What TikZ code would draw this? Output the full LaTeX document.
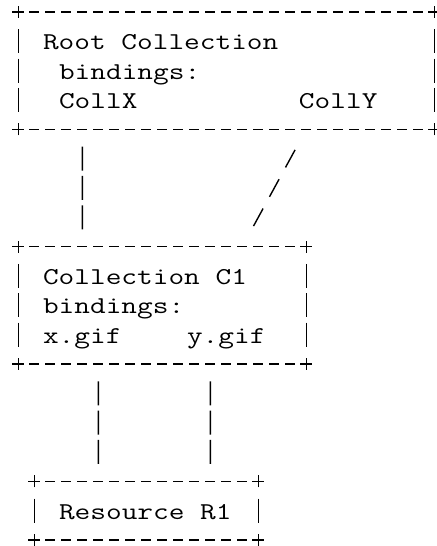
\documentclass[tikz,border=0pt]{standalone}
\usepackage{graphicx}

\newcommand{\monotxt}[1]{\scalebox{1.26}[1]{#1}}

\begin{document}
\begin{tikzpicture}[x=0.4cm, y=-0.7333cm, line width=1pt]

        % 样式
        \tikzstyle{boxnode} = [rectangle, inner sep=0pt, outer sep=0pt]
        \tikzstyle{mono} = [anchor=base west, inner sep=0pt, font=\ttfamily\fontsize{17.2}{20}\selectfont]
        \tikzstyle{hdash} = [dash pattern=on 0.25cm off 0.15cm, dash phase=0.125cm]
        \tikzstyle{vbar} = [dash pattern=on 0.6cm off 0.1333cm, shorten <=0.4333cm, shorten >=0.4333cm]
        \tikzstyle{slashline} = [dash pattern=on 0.5cm off 0.3353cm, shorten <=0.5853cm, shorten >=0.5853cm]

        \useasboundingbox (-1.144,-0.409) rectangle (26.169,18.206);

        % 方框
        \node (root) [boxnode, minimum width=10.4cm, minimum height=2.9333cm] at (13,2) {};
        \node (coll) [boxnode, minimum width=7.2cm, minimum height=2.9333cm] at (9,10) {};
        \node (res) [boxnode, minimum width=5.6cm, minimum height=1.4667cm] at (8,17) {};

        \foreach \b in {root,coll,res} {
            \draw [hdash] (\b.north west) -- (\b.north east);
            \draw [hdash] (\b.south west) -- (\b.south east);
            \draw [vbar] (\b.north west) -- (\b.south west);
            \draw [vbar] (\b.north east) -- (\b.south east);
            \foreach \a in {north west,north east,south west,south east}
                \draw (\b.\a) +(-0.15cm,0cm) -- +(0.15cm,0cm) +(0cm,-0.15cm) -- +(0cm,0.15cm);
        }

        % 文字
        \node (rootname) [mono] at (1.5,1.29) {\monotxt{Root Collection}};
        \node (rootbind) [mono] at (2.5,2.29) {\monotxt{bindings:}};
        \node (collx) [mono] at (2.5,3.29) {\monotxt{CollX}};
        \node (colly) [mono] at (17.5,3.29) {\monotxt{CollY}};
        \node (collname) [mono] at (1.5,9.29) {\monotxt{Collection C1}};
        \node (collbind) [mono] at (1.5,10.29) {\monotxt{bindings:}};
        \node (xgif) [mono] at (1.5,11.29) {\monotxt{x.gif}};
        \node (ygif) [mono] at (10.5,11.29) {\monotxt{y.gif}};
        \node (resname) [mono] at (2.5,17.29) {\monotxt{Resource R1}};

        % 连线
        \draw [vbar] ([xshift=1.6cm]root.south west) -- ([xshift=1.6cm]coll.north west);
        \draw [slashline] ([xshift=7.2cm]root.south west) -- ([xshift=5.6cm]coll.north west);
        \draw [vbar] ([xshift=2cm]coll.south west) -- ([xshift=1.6cm]res.north west);
        \draw [vbar] ([xshift=4.8cm]coll.south west) -- ([xshift=4.4cm]res.north west);

    \end{tikzpicture}
\end{document}
